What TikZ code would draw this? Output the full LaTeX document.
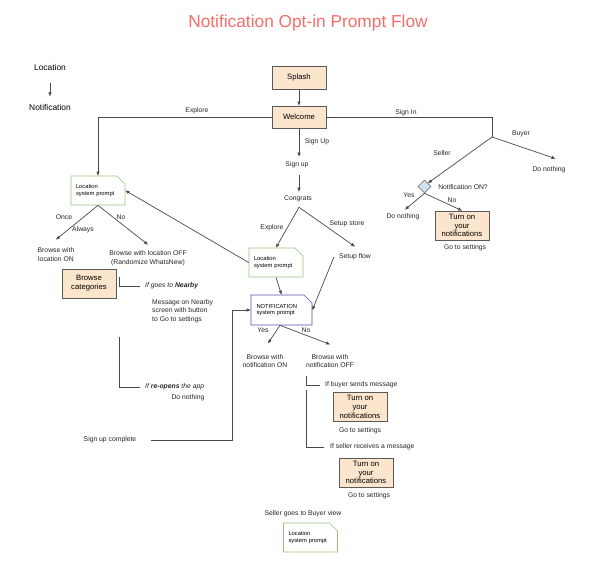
\documentclass[tikz,border=0pt]{standalone}
\usepackage{fontspec}
\setmainfont{Liberation Sans}
\usepackage{tikz}
\usetikzlibrary{arrows.meta,shapes.geometric,shapes.misc,calc}

\definecolor{titlered}{HTML}{F86E6A}
\definecolor{peach}{HTML}{FCE5CD}
\definecolor{boxline}{HTML}{5A5A5A}
\definecolor{promptgreen}{HTML}{93C47D}
\definecolor{promptblue}{HTML}{5050B4}
\definecolor{diafill}{HTML}{CFE2F3}
\definecolor{flowline}{HTML}{4A4A4A}

\begin{document}
\begin{tikzpicture}[x=1pt,y=-1pt,
  lbl/.style={inner sep=1pt, align=center, text=black!85, font=\fontsize{6.8}{8.5}\selectfont},
  itlbl/.style={lbl, anchor=west, font=\fontsize{6.8}{8.5}\selectfont\itshape},
  stepbox/.style={draw=boxline, fill=peach, line width=0.8pt, minimum width=54pt, minimum height=29pt,
    inner sep=1pt, align=center, font=\fontsize{7.7}{8.8}\selectfont},
  prompt/.style={chamfered rectangle, chamfered rectangle corners=north east,
    chamfered rectangle xsep=4pt, chamfered rectangle ysep=4pt, draw=promptgreen, line width=0.7pt,
    minimum width=54pt, minimum height=29pt, text width=44pt, align=left, inner sep=0pt,
    font=\fontsize{5.8}{6.6}\selectfont},
  line/.style={draw=flowline, line width=0.7pt},
  arr/.style={line, -{Triangle[length=4pt,width=3pt]}}]

\fill[white] (0,0) rectangle (605,578);
\useasboundingbox (0,0) rectangle (605,578);

\node[font=\fontsize{17.3}{20}\selectfont, text=titlered] (title) at (308,23) {Notification Opt-in Prompt Flow};

% legend
\node[font=\fontsize{8.4}{10}\selectfont] (legLoc) at (50,67) {Location};
\node[font=\fontsize{8.4}{10}\selectfont] (legNot) at (50,107) {Notification};
\draw[arr, shorten <=9pt, shorten >=4pt] (legLoc) -- (legNot);

% main column
\node[stepbox, minimum height=23pt] (splash) at (299,77.5) {Splash};
\node[stepbox, minimum height=22pt] (welcome) at (299,117) {Welcome};
\draw[arr] (splash) -- (welcome);

\node[prompt] (locL) at (98,190.5) {Location\\system prompt};
\draw[arr] (welcome.west) -| (locL.north);
\node[lbl] (explore1) at (197,111) {Explore};

% sign in
\coordinate (signin) at (492,137);
\draw[line] (welcome.east) -| (signin);
\node[lbl] (signinLbl) at (406,113) {Sign In};
\node[lbl] (buyerLbl) at (521,134) {Buyer};
\node[lbl] (sellerLbl) at (442,153) {Seller};
\node[lbl] (nothingB) at (549,170) {Do nothing};
\draw[arr] (signin) -- ([xshift=6.5pt,yshift=7pt]nothingB.north);

\node[diamond, draw=boxline!80, fill=diafill, line width=0.6pt, minimum width=13pt, minimum height=13pt, inner sep=0pt] (notifOn) at (424.5,186.5) {};
\draw[arr] (signin) -- (notifOn.north east);
\node[lbl] (notifOnLbl) at (463,187) {Notification ON?};
\node[lbl] (yesS) at (409,195) {Yes};
\node[lbl] (noS) at (452,200) {No};
\node[lbl] (nothingS) at (403,217) {Do nothing};
\node[stepbox] (turnA) at (462,225.5) {Turn on\\your\\notifications};
\node[lbl] (settingsA) at (465,248) {Go to settings};
\draw[arr] (notifOn.south) -- ([xshift=2pt,yshift=3pt]nothingS.north);
\draw[arr] (notifOn.south) -- (turnA.north);

% sign up
\node[lbl] (signupLbl) at (317,142) {Sign Up};
\node[lbl] (signup) at (297,165) {Sign up};
\draw[arr, shorten >=4pt] (welcome.south) -- (welcome.south |- signup.north);
\node[lbl] (congrats) at (298,199) {Congrats};
\draw[arr, shorten <=6pt, shorten >=3pt] (signup.south -| welcome.south) -- (congrats.north -| welcome.south);

\node[prompt] (locM) at (276,262.5) {Location\\system prompt};
\node[lbl] (setupflow) at (355,257) {Setup flow};
\draw[arr] ([xshift=1pt,yshift=-4pt]congrats.south) -- (locM.north);
\draw[arr] ([xshift=1pt,yshift=-4pt]congrats.south) -- ([yshift=6pt]setupflow.north);
\node[lbl] (explore2) at (272,228) {Explore};
\node[lbl] (setupLbl) at (347,224) {Setup store};
\node[prompt, draw=promptblue, minimum width=61pt, minimum height=30pt, text width=50pt] (notifP) at (281.5,310) {NOTIFICATION\\system prompt};
\draw[arr] (locM.west) -- (locL.east);
\draw[arr] (locM.south) -- (notifP.north);
\draw[arr] ([xshift=-4pt]setupflow.west) -- (notifP.east);

% location prompt answers
\node[lbl] (locOn) at (56,254.5) {Browse with\\location ON};
\node[lbl] (locOff) at (148,258.3) {Browse with location OFF\\(Randomize WhatsNew)};
\draw[arr] (locL.south) -- ([yshift=7pt]locOn.north);
\draw[arr] (locL.south) -- ([yshift=5pt]locOff.north);
\node[lbl] (onceLbl) at (64,217) {Once};
\node[lbl] (alwaysLbl) at (83,230) {Always};
\node[lbl] (noL) at (121,217) {No};
\node[stepbox] (browse) at (89,283.5) {Browse\\categories};
\node[itlbl] (ifNearby) at (144,286) {If goes to \textbf{Nearby}};
\node[lbl, anchor=west, align=left] (msgNearby) at (151,311) {Message on Nearby\\screen with button\\to Go to settings};
\draw[line] ([xshift=3pt,yshift=6.5pt]browse.east) |- ([xshift=-4pt]ifNearby.west);
\node[itlbl] (ifReopen) at (144,387) {If \textbf{re-opens} the app};
\node[lbl] (nothingR) at (188,398) {Do nothing};
\draw[line] ([xshift=3pt,yshift=-53.5pt]browse.east) |- ([xshift=-4pt]ifReopen.west);

\node[lbl] (done) at (110,440) {Sign up complete};
\draw[arr, shorten <=14pt] (done.east) -- ++(95,0) |- (notifP.west);

% notification prompt answers
\node[lbl] (yesN) at (263,330) {Yes};
\node[lbl] (noN) at (306,330) {No};
\node[lbl] (notifOnB) at (265,361.3) {Browse with\\notification ON};
\node[lbl] (notifOffB) at (330,361.3) {Browse with\\notification OFF};
\draw[arr] ([xshift=-1.5pt]notifP.south) -- ([xshift=3pt,yshift=10pt]notifOnB.north);
\draw[arr] ([xshift=-1.5pt]notifP.south) -- ([yshift=9pt]notifOffB.north);

\node[lbl, anchor=west] (ifBuyer) at (324,385) {If buyer sends message};
\draw[line] ([xshift=1.5pt,yshift=-7pt]notifOffB.south west) |- ([xshift=-4pt]ifBuyer.west);
\node[stepbox] (turnB) at (360,407) {Turn on\\your\\notifications};
\node[lbl] (settingsB) at (360,431) {Go to settings};
\node[lbl, anchor=west] (ifSeller) at (329,447) {If seller receives a message};
\draw[line] ([xshift=1.5pt,yshift=-21pt]notifOffB.south west) |- ([xshift=-5pt]ifSeller.west);
\node[stepbox] (turnC) at (366,472.5) {Turn on\\your\\notifications};
\node[lbl] (settingsC) at (369,496) {Go to settings};

\node[lbl] (buyerView) at (303,514) {Seller goes to Buyer view};
\node[prompt] (locB) at (310.5,537.5) {Location\\system prompt};
\end{tikzpicture}
\end{document}
